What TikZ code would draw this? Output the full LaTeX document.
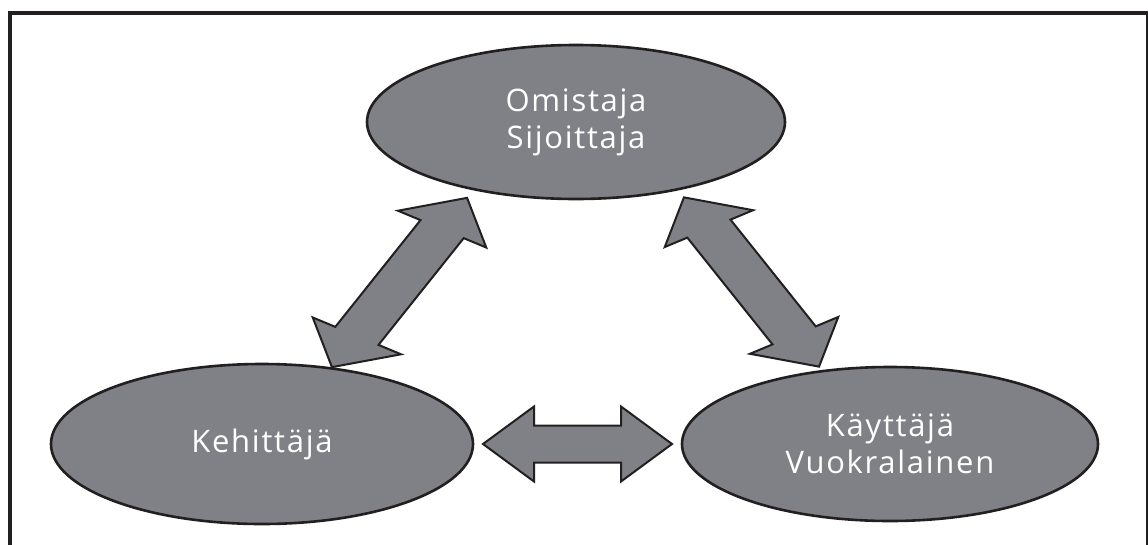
\documentclass[tikz,border=0pt]{standalone}
\usepackage{fontspec}
\setmainfont{Open Sans}
\usetikzlibrary{shapes.geometric}
\definecolor{shapefill}{RGB}{128,129,134}
\definecolor{inkline}{RGB}{35,31,32}
% double-headed block arrow: centre x, centre y, angle, slant, length, head length, head half-width, shaft half-width
\newcommand\blockarrow[8]{%
  \begin{scope}[shift={(#1,#2)},rotate=#3,xslant=#4]
    \draw[arrowbody] ({-#5/2},0) -- ({-#5/2+#6},#7) -- ({-#5/2+#6},#8)
      -- ({#5/2-#6},#8) -- ({#5/2-#6},#7) -- ({#5/2},0)
      -- ({#5/2-#6},-#7) -- ({#5/2-#6},-#8) -- ({-#5/2+#6},-#8)
      -- ({-#5/2+#6},-#7) -- cycle;
  \end{scope}}
\begin{document}
\begin{tikzpicture}[x=1pt,y=-1pt,
  role/.style={ellipse,draw=inkline,fill=shapefill,line width=2.6pt,
    text=white,align=center,inner sep=0pt,
    font=\fontsize{31}{37}\selectfont\addfontfeatures{LetterSpace=5.5}},
  arrowbody/.style={draw=inkline,fill=shapefill,line width=2pt,line join=miter}]
\useasboundingbox (0,0) rectangle (1148,544);
\clip (0,0) rectangle (1148,544);
\fill[white] (0,0) rectangle (1148,544);
% outer frame, open at the bottom edge
\draw[inkline,line width=4pt] (10,560) -- (10,13) -- (1150,13) -- (1150,560);
\draw[inkline,line width=2pt] (1147,13) -- (1147,560);

\node[role,minimum width=418pt,minimum height=154pt] (owner) at (576,122) {Omistaja\\Sijoittaja};
\node[role,minimum width=422pt,minimum height=160pt] (dev) at (262,444) {Kehittäjä};
\node[role,minimum width=416pt,minimum height=154pt] (user) at (890,444) {Käyttäjä\\Vuokralainen};

% arrows between the three roles
\blockarrow{399.5}{282.5}{51.4}{-0.286}{216.6}{40}{46}{22.5}
\blockarrow{751.5}{282}{-51.4}{0.286}{216.6}{40}{46}{22.5}
\blockarrow{577.5}{444}{0}{0}{189}{51}{37.5}{18.5}
\end{tikzpicture}
\end{document}
